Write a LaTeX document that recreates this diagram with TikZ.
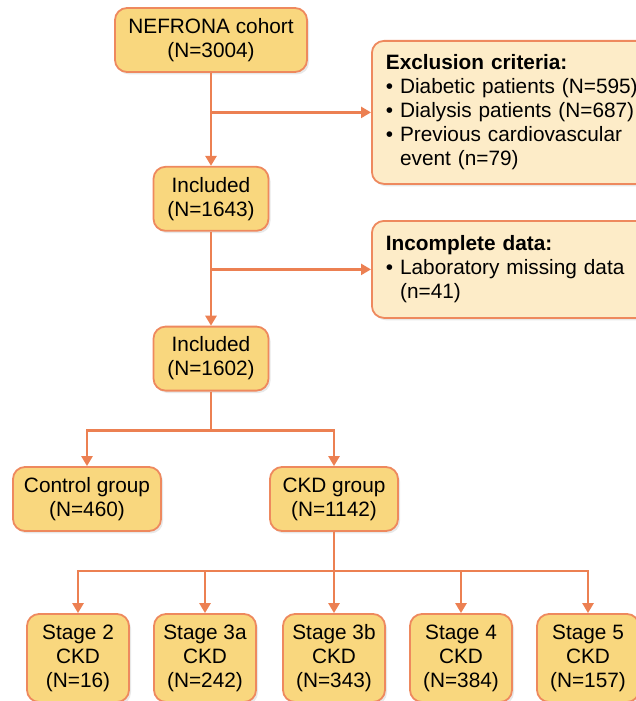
\documentclass[tikz,border=0pt]{standalone}
\usepackage{fontspec}
\setmainfont{Liberation Sans}
\usepackage{tikz}
\usetikzlibrary{
  arrows.meta,
  positioning,
  shadows
}
\definecolor{boxline}{RGB}{238,137,94}
\definecolor{boxfill}{RGB}{249,215,126}
\definecolor{notefill}{RGB}{253,236,200}
\definecolor{arrline}{RGB}{236,128,82}
\tikzset{
  flowbox/.style={draw=boxline, line width=0.9pt, rounded corners=6pt,
    fill=boxfill, align=center, inner sep=0pt,
    minimum height=32pt,
    font=\fontsize{10.4}{12}\selectfont,
    drop shadow={shadow xshift=1pt, shadow yshift=-1.2pt, opacity=0.18}},
  notebox/.style={draw=boxline, line width=0.9pt, rounded corners=6pt,
    fill=notefill, align=left, inner xsep=7pt, inner ysep=0pt,
    text width=128pt,
    font=\fontsize{10.4}{12}\selectfont,
    drop shadow={shadow xshift=1pt, shadow yshift=-1.2pt, opacity=0.18}},
  stagebox/.style={flowbox, minimum width=51pt, minimum height=44pt},
  arr/.style={-{Triangle[length=5pt, width=5.5pt]}, line width=1.35pt, draw=arrline},
}
\newcommand{\blt}{\textbullet\ }

\begin{document}
\begin{tikzpicture}[x=0.5pt, y=-0.5pt]
  \useasboundingbox (0,0) rectangle (636,701);

  % Main chain
  \node[flowbox, minimum width=96pt] (cohort) at (211,40)
    {NEFRONA cohort\\(N=3004)};
  \node[flowbox, minimum width=57.5pt, below=46.5pt of cohort] (incl1)
    {Included\\(N=1643)};
  \node[flowbox, minimum width=57.5pt, below=47pt of incl1] (incl2)
    {Included\\(N=1602)};

  % Side notes
  \node[notebox, minimum height=71.5pt, anchor=north west] (excl) at (371,40)
    {\textbf{Exclusion criteria:}\\
     \blt Diabetic patients (N=595)\\
     \blt Dialysis patients (N=687)\\
     \blt Previous cardiovascular\\
     \phantom{\blt}event (n=79)};
  \node[notebox, minimum height=48.5pt, anchor=north west] (incompl) at (371,220)
    {\textbf{Incomplete data:}\\
     \blt Laboratory missing data\\
     \phantom{\blt}(n=41)};

  % Groups
  \node[flowbox, minimum width=74pt] (control) at (87,499)
    {Control group\\(N=460)};
  \node[flowbox, minimum width=64pt] (ckd) at (334,499)
    {CKD group\\(N=1142)};

  % Stages
  \node[stagebox] (st2) at (78,658) {Stage 2\\CKD\\(N=16)};
  \node[stagebox] (st3a) at (205,658) {Stage 3a\\CKD\\(N=242)};
  \node[stagebox] (st3b) at (334,658) {Stage 3b\\CKD\\(N=343)};
  \node[stagebox] (st4) at (461,658) {Stage 4\\CKD\\(N=384)};
  \node[stagebox] (st5) at (588,658) {Stage 5\\CKD\\(N=157)};

  % Arrows
  \draw[arr] (cohort) -- (incl1);
  \draw[arr] (cohort.south |- excl.west) -- (excl.west);
  \draw[arr] (incl1) -- (incl2);
  \draw[arr] (incl1.south |- incompl.west) -- (incompl.west);

  \draw[arr] (incl2.south) -- ++(0,39) -| (control.north);
  \draw[arr] (incl2.south) -- ++(0,39) -| (ckd.north);

  \draw[arr] (ckd.south) -- ++(0,39) -| (st2.north);
  \draw[arr] (ckd.south) -- ++(0,39) -| (st3a.north);
  \draw[arr] (ckd.south) -- (st3b.north);
  \draw[arr] (ckd.south) -- ++(0,39) -| (st4.north);
  \draw[arr] (ckd.south) -- ++(0,39) -| (st5.north);
\end{tikzpicture}
\end{document}
